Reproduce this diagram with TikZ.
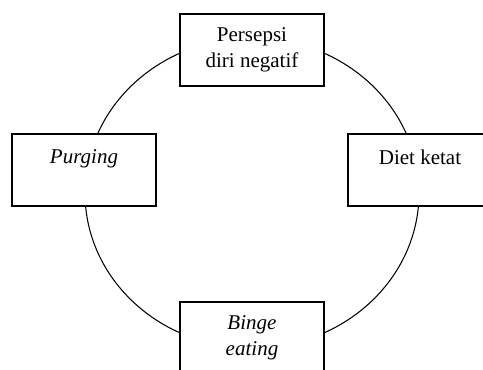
\documentclass[tikz,border=0pt]{standalone}
\usepackage{fontspec}
\setmainfont{Liberation Serif}

\tikzset{
  kotak/.style={draw, thick, fill=white, minimum width=82.2pt, minimum height=41.1pt,
    align=center, inner sep=0pt, font=\fontsize{12}{14.9}\selectfont}
}

\begin{document}
\begin{tikzpicture}[x=0.571pt, y=-0.571pt]

\useasboundingbox (0,0) rectangle (483,369);
\clip (0,0) rectangle (483,369);

% Siklus
\draw[line width=0.6pt] (252,193) ellipse [x radius=167, y radius=155];

% Kotak
\node[kotak] (persepsi) at (252,50) {Persepsi\\diri negatif};
\node[kotak] (purging) at (84,170) {\textit{Purging}\\\mbox{}};
\node[kotak] (diet) at (420,170) {Diet ketat\\\mbox{}};
\node[kotak] (binge) at (252,338) {\textit{Binge}\\\textit{eating}};

\end{tikzpicture}
\end{document}
